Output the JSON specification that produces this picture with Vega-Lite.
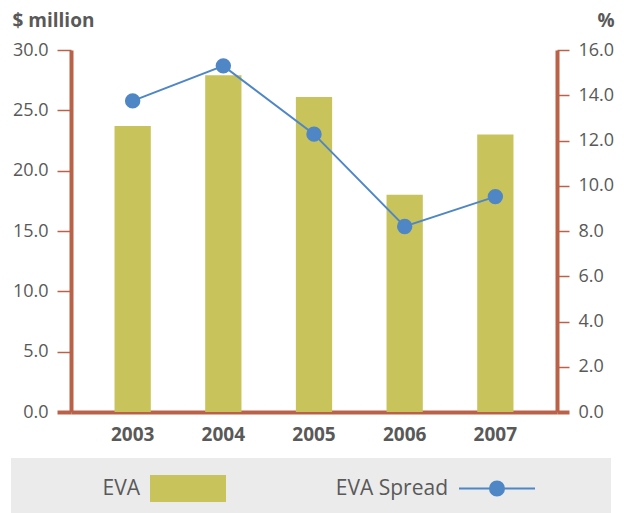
{
  "$schema": "https://vega.github.io/schema/vega-lite/v6.json",
  "width": 486,
  "height": 362,
  "autosize": {"type": "none"},
  "padding": {"left": 71, "top": 50, "right": 73, "bottom": 101},
  "background": "white",
  "config": {
    "view": {"stroke": null},
    "font": "Open Sans",
    "axis": {
      "domainColor": "#BA6248",
      "tickColor": "#BA6248",
      "labelColor": "#595959",
      "titleColor": "#595959",
      "labelFont": "Open Sans",
      "titleFont": "Open Sans",
      "grid": false,
      "labelFlush": false,
      "labelOverlap": false
    }
  },
  "data": {
    "values": [
      {"year": "2003", "eva": 23.7, "spread": 13.75},
      {"year": "2004", "eva": 27.9, "spread": 15.3},
      {"year": "2005", "eva": 26.1, "spread": 12.28},
      {"year": "2006", "eva": 18.0, "spread": 8.2},
      {"year": "2007", "eva": 23.0, "spread": 9.52}
    ]
  },
  "encoding": {
    "x": {
      "field": "year",
      "type": "nominal",
      "scale": {"paddingInner": 0.6, "paddingOuter": 0.48},
      "axis": {
        "title": null,
        "ticks": false,
        "labelAngle": 0,
        "labelFontSize": 19,
        "labelFontWeight": "bold",
        "labelPadding": 13,
        "domainWidth": 4
      }
    }
  },
  "layer": [
    {
      "mark": {"type": "bar"},
      "encoding": {
        "y": {
          "field": "eva",
          "type": "quantitative",
          "scale": {"domain": [0, 30], "nice": false},
          "axis": {
            "orient": "left",
            "values": [0, 5, 10, 15, 20, 25, 30],
            "format": ".1f",
            "title": "$ million",
            "titleAngle": 0,
            "titleAlign": "left",
            "titleBaseline": "alphabetic",
            "titleX": -59,
            "titleY": -24,
            "titleFontSize": 19,
            "titleFontWeight": "bold",
            "labelFontSize": 18,
            "labelPadding": 9,
            "tickSize": 14,
            "tickWidth": {"condition": {"test": "datum.value === 0", "value": 4}, "value": 1.5},
            "domainWidth": 4
          }
        },
        "fill": {
          "datum": "EVA",
          "type": "nominal",
          "scale": {"domain": ["EVA"], "range": ["#C8C35A"]},
          "legend": {
            "orient": "none",
            "legendX": -60,
            "legendY": 408,
            "direction": "horizontal",
            "title": null,
            "fillColor": "#EBEBEB",
            "padding": 16,
            "symbolSize": 729,
            "symbolType": "M-11.926,0M-2.815,-1H2.815V1H-2.815ZM29.85,0",
            "symbolOpacity": 1,
            "symbolStrokeWidth": 2,
            "symbolOffset": 146.5,
            "labelFontSize": 21,
            "labelColor": "#595959",
            "labelFont": "Open Sans",
            "labelAlign": "right",
            "labelBaseline": "middle",
            "labelOffset": -62.5,
            "encode": {
              "symbols": {
                "update": {
                  "shape": {"value": "M-11.926,0M-2.815,-1H2.815V1H-2.815ZM29.85,0"},
                  "fill": {"value": "#C8C35A"},
                  "stroke": {"value": "transparent"},
                  "opacity": {"value": 1}
                }
              }
            }
          }
        }
      }
    },
    {
      "mark": {"type": "line", "strokeWidth": 2, "color": "#4F86C6", "point": {"filled": true, "size": 180, "opacity": 1, "color": "#4F86C6"}},
      "encoding": {
        "y": {
          "field": "spread",
          "type": "quantitative",
          "scale": {"domain": [0, 16], "nice": false},
          "axis": {
            "orient": "right",
            "values": [0, 2, 4, 6, 8, 10, 12, 14, 16],
            "format": ".1f",
            "title": "%",
            "titleAngle": 0,
            "titleAlign": "right",
            "titleBaseline": "alphabetic",
            "titleX": 57,
            "titleY": -24,
            "titleFontSize": 19,
            "titleFontWeight": "bold",
            "labelFontSize": 18,
            "labelPadding": 9,
            "tickSize": 12,
            "tickWidth": {"condition": {"test": "datum.value === 0", "value": 4}, "value": 1.5},
            "domainWidth": 4
          }
        },
        "stroke": {
          "datum": "EVA Spread",
          "type": "nominal",
          "scale": {"domain": ["EVA Spread"], "range": ["#4F86C6"]},
          "legend": {
            "orient": "none",
            "legendX": 249,
            "legendY": 408,
            "zindex": 1,
            "direction": "horizontal",
            "title": null,
            "padding": 16,
            "symbolSize": 729,
            "symbolType": "M-11.926,0M-2.815,0H2.815M0.52,0A0.52,0.52,0,0,1,-0.52,0A0.52,0.52,0,0,1,0.52,0Z",
            "symbolOpacity": 1,
            "symbolStrokeWidth": 2,
            "symbolOffset": 146.5,
            "labelFontSize": 21,
            "labelColor": "#595959",
            "labelFont": "Open Sans",
            "labelAlign": "right",
            "labelBaseline": "middle",
            "labelOffset": -63.5,
            "encode": {
              "symbols": {
                "update": {
                  "shape": {"value": "M-11.926,0M-2.815,0H2.815M0.52,0A0.52,0.52,0,0,1,-0.52,0A0.52,0.52,0,0,1,0.52,0Z"},
                  "fill": {"value": "#4F86C6"},
                  "stroke": {"value": "#4F86C6"},
                  "strokeWidth": {"value": 2},
                  "opacity": {"value": 1}
                }
              }
            }
          }
        }
      }
    }
  ],
  "resolve": {"scale": {"y": "independent"}}
}
